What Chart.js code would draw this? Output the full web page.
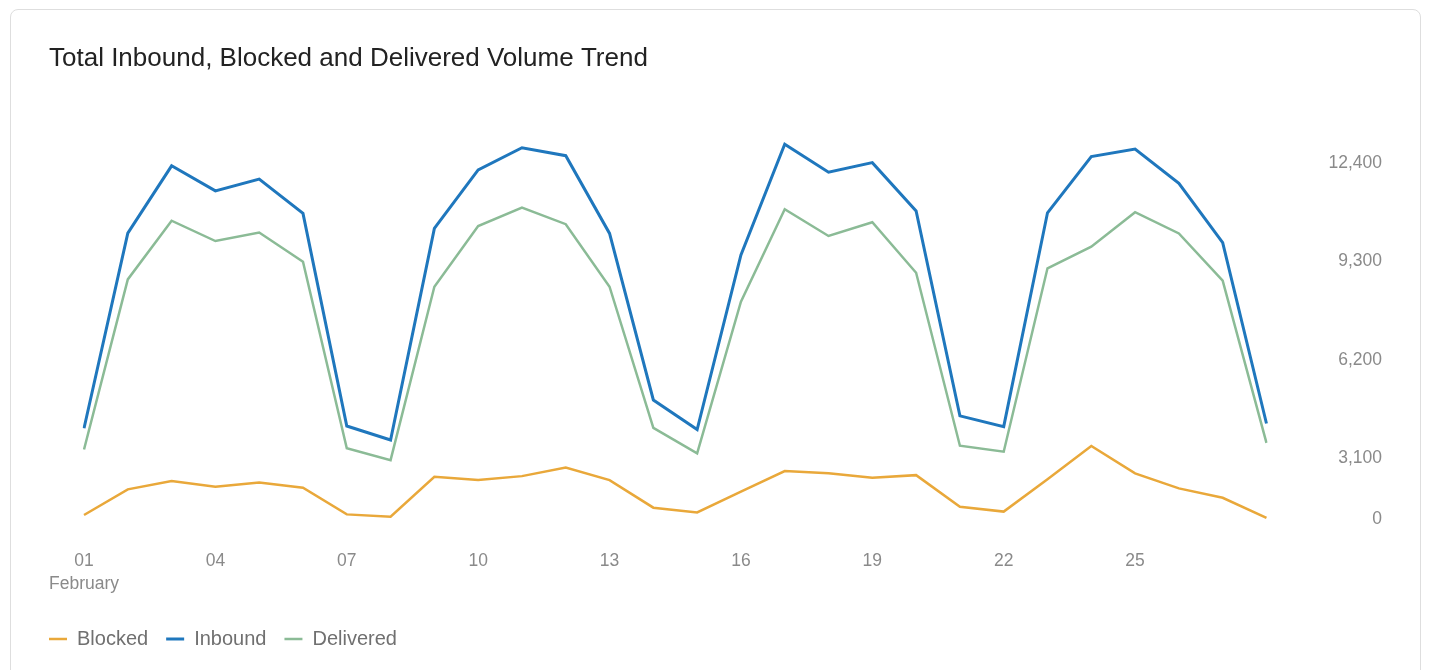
<!DOCTYPE html>
<html>
<head>
<meta charset="utf-8">
<title>Volume Trend</title>
<script src="https://cdn.jsdelivr.net/npm/chart.js@4/dist/chart.umd.min.js"></script>
<style>
  html, body { margin: 0; padding: 0; background: #fff; }
  .card {
    position: absolute; left: 10px; top: 9px; width: 1411px; height: 700px;
    border: 1px solid #dedede; border-radius: 8px; box-sizing: border-box;
  }
  .plot { position: absolute; left: 49px; top: 25px; width: 1333px; height: 634px; }
</style>
</head>
<body>
<div class="card"></div>
<div class="plot"><canvas id="trend"></canvas></div>
<script>
const days = ['01','02','03','04','05','06','07','08','09','10','11','12','13','14',
              '15','16','17','18','19','20','21','22','23','24','25','26','27','28']
const shownDays = ['01','04','07','10','13','16','19','22','25']
const monthName = 'February'
const yTicks = [0, 3100, 6200, 9300, 12400]

const blocked = [230, 1530, 1950, 1660, 1880, 1610, 260, 140, 2170, 2000, 2200, 2640, 2000, 600,
                 360, 1410, 2460, 2340, 2120, 2250, 650, 400, 2040, 3490, 2340, 1580, 1100, 80]
const inbound = [4050, 10200, 12320, 11530, 11900, 10820, 4120, 3680, 10350, 12190, 12890, 12640, 10190, 4940,
                 4010, 9510, 13000, 12120, 12420, 10900, 4440, 4100, 10840, 12610, 12850, 11770, 9900, 4200]
const delivered = [3380, 8740, 10590, 9950, 10220, 9300, 3420, 3010, 8510, 10420, 11000, 10480, 8510, 4060,
                   3260, 8040, 10950, 10110, 10540, 8950, 3500, 3310, 9090, 9770, 10860, 10190, 8700, 3590]

// the first tick band (0..3100) is drawn shorter than the others
const LOW_BAND_TOP = 3100
const LOW_BAND_SHARE = 0.155

class BandedLinearScale extends Chart.LinearScale {
  static id = 'bandedLinear'
  static defaults = Chart.LinearScale.defaults

  getPixelForValue(value) {
    if (value === null || value === undefined) return NaN
    let dec
    if (value <= LOW_BAND_TOP) {
      dec = (value - this.min) / (LOW_BAND_TOP - this.min) * LOW_BAND_SHARE
    } else {
      dec = LOW_BAND_SHARE + (value - LOW_BAND_TOP) / (this.max - LOW_BAND_TOP) * (1 - LOW_BAND_SHARE)
    }
    return this.getPixelForDecimal(dec)
  }

  getValueForPixel(pixel) {
    const dec = this.getDecimalForPixel(pixel)
    if (dec <= LOW_BAND_SHARE) return this.min + dec / LOW_BAND_SHARE * (LOW_BAND_TOP - this.min)
    return LOW_BAND_TOP + (dec - LOW_BAND_SHARE) / (1 - LOW_BAND_SHARE) * (this.max - LOW_BAND_TOP)
  }
}
Chart.register(BandedLinearScale)

// legend row starts flush with the title
const legendFlush = {
  id: 'legendFlush',
  afterLayout(chart) {
    const pad = chart.legend.options.labels.padding
    chart.legend.left -= pad
    chart.legend.right -= pad
  }
}

Chart.defaults.font.family = "'Liberation Sans', Arial, sans-serif"

const tickColor = '#8a8a8a'
// invisible tick marks, used only to space labels away from the plot
const spacerGrid = len => ({ display: true, drawOnChartArea: false, drawTicks: true, tickLength: len, color: 'transparent' })

new Chart(document.getElementById('trend'), {
  type: 'line',
  data: {
    labels: days,
    datasets: [
      { label: 'Blocked', data: blocked, borderColor: '#e9a83a', backgroundColor: '#e9a83a', borderWidth: 2.5 },
      { label: 'Inbound', data: inbound, borderColor: '#1f77bd', backgroundColor: '#1f77bd', borderWidth: 3 },
      { label: 'Delivered', data: delivered, borderColor: '#8bbb96', backgroundColor: '#8bbb96', borderWidth: 2.5 }
    ]
  },
  options: {
    responsive: true,
    maintainAspectRatio: false,
    animation: false,
    layout: { padding: 0 },
    elements: {
      point: { radius: 0, hoverRadius: 0 },
      line: { tension: 0 }
    },
    plugins: {
      title: {
        display: true,
        text: 'Total Inbound, Blocked and Delivered Volume Trend',
        align: 'start',
        color: '#222',
        font: { size: 26, weight: 'normal' },
        padding: { top: 18, bottom: 51 }
      },
      legend: {
        position: 'bottom',
        align: 'start',
        labels: {
          usePointStyle: true,
          pointStyle: 'line',
          pointStyleWidth: 18,
          padding: 18,
          color: '#707070',
          font: { size: 20 }
        }
      },
      tooltip: { enabled: false }
    },
    scales: {
      x: {
        grid: spacerGrid(30),
        border: { display: false },
        ticks: {
          autoSkip: false,
          maxRotation: 0,
          padding: 0,
          color: tickColor,
          font: { size: 17.5, lineHeight: 1.33 },
          callback: function (value, index) {
            const d = this.getLabelForValue(value)
            if (!shownDays.includes(d)) return ''
            return index === 0 ? [d, monthName] : d
          }
        },
        afterFit: scale => { scale.height = 91.5 }
      },
      y: {
        type: 'bandedLinear',
        position: 'right',
        min: 0,
        max: 13600,
        bounds: 'data',
        grid: spacerGrid(62),
        border: { display: false },
        afterBuildTicks: scale => { scale.ticks = yTicks.map(v => ({ value: v })) },
        ticks: {
          crossAlign: 'far',
          padding: 0,
          color: tickColor,
          font: { size: 17.5 },
          callback: v => v.toLocaleString('en-US')
        }
      }
    }
  },
  plugins: [legendFlush]
})
</script>
</body>
</html>
